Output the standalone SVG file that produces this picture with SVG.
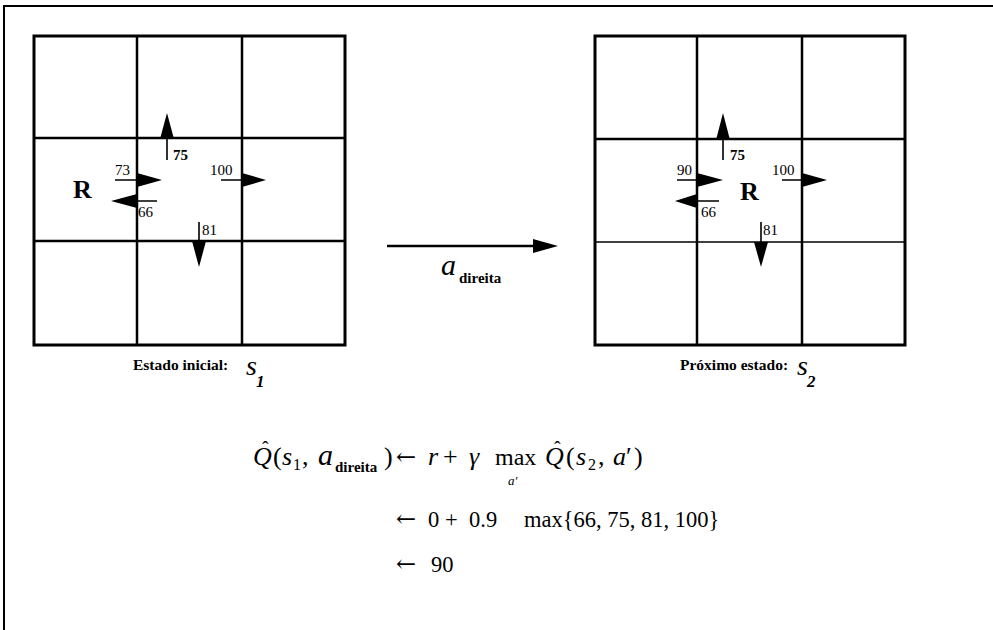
<svg xmlns="http://www.w3.org/2000/svg" width="993" height="630" viewBox="0 0 993 630">
<style>
.g{fill:none;stroke:#000;stroke-width:3}
.gi{fill:none;stroke:#000;stroke-width:2.5}
.sh{stroke:#000;stroke-width:1.6;fill:none}
.hd{fill:#000}
text{font-family:"Liberation Serif",serif;fill:#000}
.lb{font-size:15px}
.R{font-size:26px;font-weight:bold}
.cap{font-size:15.5px;font-weight:bold}
.m{font-size:26px}
.it{font-style:italic}
.sub{font-size:15px;font-weight:bold}
.ar{font-family:"DejaVu Serif",serif;font-size:24px}
.hat{font-size:20px}
.n{font-size:22.5px}
</style>
<rect width="993" height="630" fill="#fff"/>
<g id="frame"><path d="M4,630 V6 H993" fill="none" stroke="#000" stroke-width="2"/></g>

<g id="grid-s1">
<rect class="g" x="34" y="36" width="311" height="309"/>
<path class="gi" d="M137,36 V345 M242,36 V345 M34,138 H345 M34,241 H345"/>
<text class="R" x="73" y="198">R</text>
</g>

<g id="grid-s2">
<rect class="g" x="595" y="36" width="310" height="309"/>
<path class="gi" d="M697,36 V345 M802,36 V345 M595,139 H905"/>
<path d="M595,242 H905" stroke="#000" stroke-width="1.5"/>
<text class="R" x="740" y="200">R</text>
</g>

<g id="connectors">
<path class="sh" d="M167,160 V136 M115,180 H139 M157,201 H135 M221,180 H244 M199,222 V243"/>
<polygon class="hd" points="167,113 160,139 174,139"/>
<polygon class="hd" points="162,180 137,173 137,187"/>
<polygon class="hd" points="111,201 137,194 137,208"/>
<polygon class="hd" points="266,180 242,173 242,187"/>
<polygon class="hd" points="199,267 192,241 206,241"/>
<path class="sh" d="M723,160 V136 M677,180 H699 M719,201 H695 M782,180 H804 M761,222 V244"/>
<polygon class="hd" points="723,113 716,140 730,140"/>
<polygon class="hd" points="723,180 697,173 697,187"/>
<polygon class="hd" points="675,201 697,194 697,208"/>
<polygon class="hd" points="827,180 802,173 802,187"/>
<polygon class="hd" points="761,267 754,242 768,242"/>
<path d="M387,246 H536" stroke="#000" stroke-width="2.5"/>
<polygon class="hd" points="558,246 533,239 533,253"/>
</g>

<g id="labels">
<text class="lb" x="173" y="160" font-weight="bold">75</text>
<text class="lb" x="115" y="175">73</text>
<text class="lb" x="138" y="217">66</text>
<text class="lb" x="210" y="175">100</text>
<text class="lb" x="202" y="235">81</text>
<text class="lb" x="730" y="160" font-weight="bold">75</text>
<text class="lb" x="677" y="175">90</text>
<text class="lb" x="701" y="217">66</text>
<text class="lb" x="772" y="175">100</text>
<text class="lb" x="763" y="235">81</text>
</g>

<g id="action-label">
<text x="441" y="275" font-size="30" font-style="italic">a</text>
<text class="sub" x="459" y="283">direita</text>
</g>

<g id="caption-s1">
<text class="cap" x="133" y="370" font-size="16">Estado inicial:</text>
<text x="246" y="375" font-size="28" font-style="italic">s</text>
<text x="256" y="387" font-size="17" font-style="italic" font-weight="bold">1</text>
</g>

<g id="caption-s2">
<text class="cap" x="680" y="370">Próximo estado:</text>
<text x="797" y="375" font-size="28" font-style="italic">s</text>
<text x="807" y="387" font-size="17" font-style="italic" font-weight="bold">2</text>
</g>

<g id="equation">
<text class="m it" x="253" y="465">Q</text>
<text class="hat" x="262" y="456">ˆ</text>
<text class="m" x="273" y="465">(</text>
<text class="m it" x="282" y="465">s</text>
<text x="293" y="470" font-size="16">1</text>
<text class="m" x="302" y="465">,</text>
<text x="318" y="465" font-size="30" font-style="italic">a</text>
<text class="sub" x="335" y="472">direita</text>
<text class="m" x="384" y="465">)</text>
<text class="ar" x="396" y="465">←</text>
<text class="m it" x="428" y="465">r</text>
<text class="m" x="443" y="465">+</text>
<text class="m it" x="469" y="465">γ</text>
<text x="495" y="465" font-size="24">max</text>
<text x="508" y="485" font-size="13" font-style="italic">a′</text>
<text class="m it" x="545" y="465">Q</text>
<text class="hat" x="554" y="456">ˆ</text>
<text class="m" x="566" y="465">(</text>
<text class="m it" x="576" y="465">s</text>
<text x="588" y="470" font-size="16">2</text>
<text class="m" x="598" y="465">,</text>
<text class="m it" x="613" y="465">a</text>
<text class="m" x="626" y="465">′</text>
<text class="m" x="634" y="465">)</text>

<text class="ar" x="396" y="527">←</text>
<text class="n" x="428" y="527">0</text>
<text class="n" x="445" y="527">+</text>
<text class="n" x="469" y="527">0.9</text>
<text class="n" x="524" y="527" font-size="22">max{66, 75, 81, 100}</text>
<text class="ar" x="396" y="572">←</text>
<text class="n" x="431" y="572">90</text>
</g>
</svg>
